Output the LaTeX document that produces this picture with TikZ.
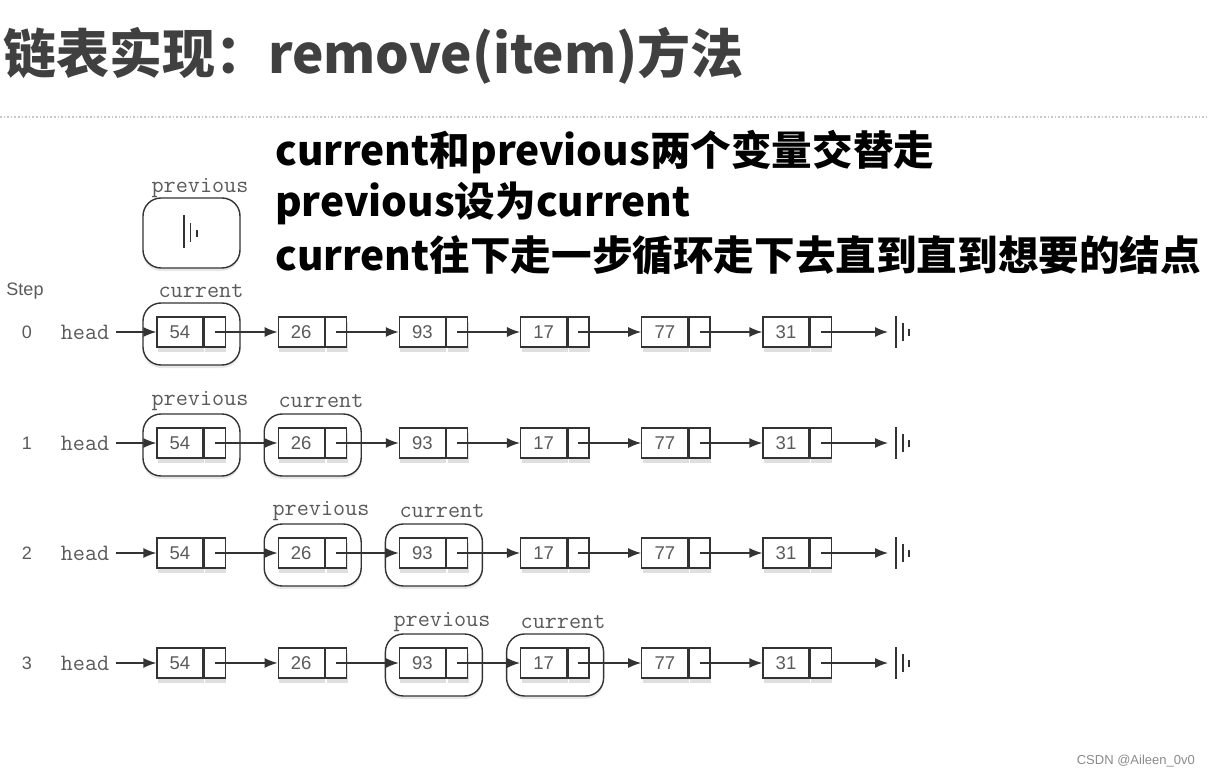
\documentclass[tikz,border=0pt]{standalone}
\usepackage{fontspec}
\usetikzlibrary{arrows.meta,shadows}
\newfontfamily\cjk{Noto Sans CJK SC}
\newfontfamily\sansf{Liberation Sans}
\definecolor{titlegray}{HTML}{404040}
\definecolor{lc}{HTML}{333333}
\definecolor{tg}{HTML}{5A5A5A}
\definecolor{dotgray}{HTML}{C8C8C8}
\definecolor{wm}{HTML}{8A8A8A}
\begin{document}
\begin{tikzpicture}[x=1pt,y=-1pt,
  title/.style={anchor=west,inner sep=0pt,text=titlegray,font=\cjk\bfseries\fontsize{53}{53}\selectfont},
  note/.style={anchor=west,inner sep=0pt,text=black,font=\cjk\bfseries\fontsize{40.6}{40.6}\selectfont},
  databox/.style={draw=lc,line width=1.3pt,fill=white,minimum width=46pt,minimum height=30pt,inner sep=0pt,text=tg,font=\sansf\fontsize{18.5}{18.5}\selectfont,
     drop shadow={opacity=0.25,shadow xshift=1pt,shadow yshift=-5pt}},
  ptrbox/.style={draw=lc,line width=1.3pt,fill=white,minimum width=21pt,minimum height=30pt,inner sep=0pt,
     drop shadow={opacity=0.25,shadow xshift=1pt,shadow yshift=-5pt}},
  encl/.style={draw=lc,line width=1.4pt,fill=white,rounded corners=18pt,minimum width=97pt,minimum height=62pt,inner sep=0pt,
     drop shadow={opacity=0.18,shadow xshift=0pt,shadow yshift=-3pt}},
  monolbl/.style={inner sep=0pt,text=tg,font=\ttfamily\fontsize{23.5}{23.5}\selectfont},
  steplbl/.style={inner sep=0pt,text=tg,font=\sansf\fontsize{18}{18}\selectfont},
  arr/.style={draw=lc,line width=1.3pt,-{Latex[length=13pt,width=10pt]}},
  nil/.style={draw=lc,line width=1.5pt},
]
\useasboundingbox (0,0) rectangle (1207,778);
% title
\node[title] (ttl) at (3,56) {链表实现：remove(item)方法};
\draw[dotgray,line width=1.6pt,dash pattern=on 1.6pt off 2pt] (0,117) -- (1207,117);
% notes
\node[note] (n1) at (275,152) {current和previous两个变量交替走};
\node[note] (n2) at (275,203) {previous设为current};
\node[note] (n3) at (275,255) {current往下走一步循环走下去直到直到想要的结点};
% step label
\node[steplbl] (steptxt) at (25,291) {Step};
% standalone previous (step 0)
\node[encl,minimum height=70pt] (prev0) at (191.5,233) {};
\node[monolbl] (prevlbl0) at (200,188) {previous};
\draw[nil] (184,215) -- (184,248);
\draw[nil] (190.5,223) -- (190.5,242);
\draw[nil] (197,230) -- (197,237);
% enclosures
\node[encl] (cur0) at (191.5,334) {};
\node[monolbl] (curlbl0) at (201,291) {current};
\node[encl] (prev1) at (191.5,445) {};
\node[monolbl] (prevlbl1) at (200,401) {previous};
\node[encl] (cur1) at (312.7,445) {};
\node[monolbl] (curlbl1) at (321,401) {current};
\node[encl] (prev2) at (312.7,555) {};
\node[monolbl] (prevlbl2) at (321,511) {previous};
\node[encl] (cur2) at (433.9,555) {};
\node[monolbl] (curlbl2) at (442,511) {current};
\node[encl] (prev3) at (433.9,665) {};
\node[monolbl] (prevlbl3) at (442,622) {previous};
\node[encl] (cur3) at (555.1,665) {};
\node[monolbl] (curlbl3) at (563,622) {current};
% rows
\foreach \r/\yy in {0/332,1/443,2/553,3/663} {
  \node[steplbl] (num\r) at (27,\yy) {\r};
  \node[monolbl] (head\r) at (85,\yy) {head};
  \foreach \v [count=\k] in {54,26,93,17,77,31} {
    \pgfmathsetmacro\lx{157+121.2*(\k-1)+23}
    \node[databox] (d\r-\k) at (\lx,\yy) {\v};
    \node[ptrbox,anchor=west] (p\r-\k) at (d\r-\k.east) {};
  }
  \coordinate (hs\r) at ([xshift=7pt]head\r.east);
  \draw[arr] (hs\r) -- (d\r-1.west);
  \foreach \k [evaluate=\k as \j using int(\k+1)] in {1,...,5}
    \draw[arr] (p\r-\k.center) -- (d\r-\j.west);
  \coordinate (nil\r) at (888,\yy);
  \draw[arr] (p\r-6.center) -- (nil\r);
  \draw[nil] (896,\yy-16) -- (896,\yy+16);
  \draw[nil] (903,\yy-9) -- (903,\yy+9);
  \draw[nil] (909,\yy-3.5) -- (909,\yy+3.5);
}
% watermark
\node[inner sep=0pt,anchor=east,text=wm,font=\sansf\fontsize{13}{13}\selectfont] (wmk) at (1195,761) {CSDN @Aileen\_0v0};
\end{tikzpicture}
\end{document}
